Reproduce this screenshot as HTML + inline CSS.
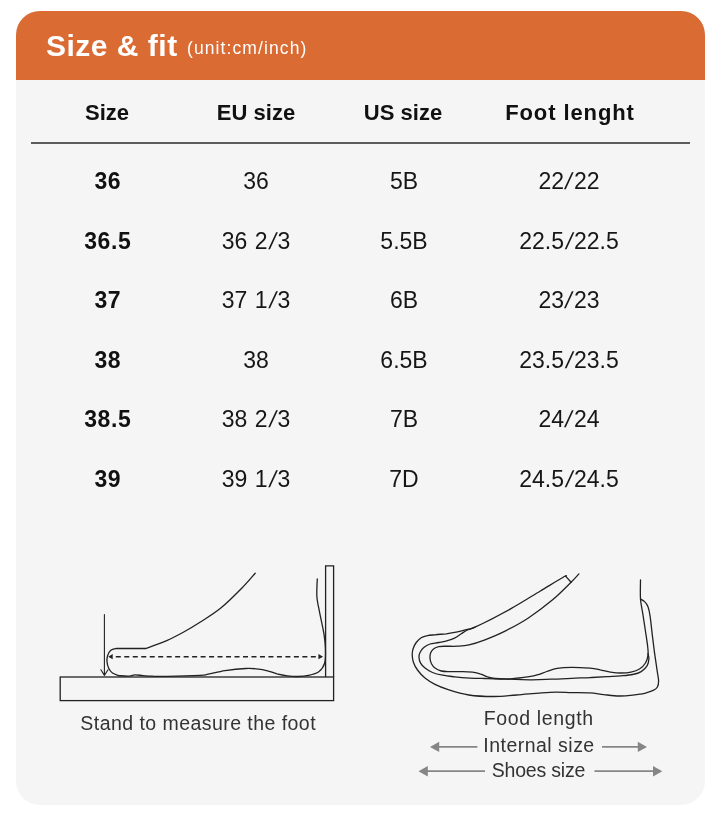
<!DOCTYPE html>
<html lang="en">
<head>
<meta charset="utf-8">
<title>Size &amp; fit</title>
<style>
html,body{margin:0;padding:0;background:#fff;}
body{width:720px;height:820px;position:relative;overflow:hidden;font-family:"Liberation Sans",sans-serif;color:#222;}
.card{position:absolute;left:16px;top:11px;width:689px;height:794px;background:#f5f5f5;border-radius:24px;overflow:hidden;}
.head{position:absolute;left:0;top:0;width:689px;height:68.6px;background:#d96b33;}
.t{position:absolute;white-space:nowrap;line-height:1;}
.title{left:30px;top:20px;font-size:30px;font-weight:bold;color:#fff;letter-spacing:0.5px;}
.unit{left:171px;top:28.5px;font-size:17.5px;color:#fff;letter-spacing:1.1px;}
.c{position:absolute;white-space:nowrap;line-height:1;transform:translate(-50%,-50%);}
.h{font-weight:bold;font-size:22px;color:#111;}
.b{font-weight:bold;font-size:23px;color:#111;letter-spacing:0.6px;}
.r{font-size:23px;color:#161616;word-spacing:1px;}
.r i{font-style:normal;display:inline-block;transform:skewX(-11deg);margin:0 1.75px;}
.rule{position:absolute;left:15.2px;top:130.9px;width:658.8px;height:2px;background:#5c5c5c;}
.cap{font-size:19.5px;color:#333;}
svg{position:absolute;left:0;top:0;}
</style>
</head>
<body>
<div class="card">
  <div class="head"></div>
  <div class="t title">Size &amp; fit</div>
  <div class="t unit">(unit:cm/inch)</div>

  <div class="c h" style="left:91px;top:102px">Size</div>
  <div class="c h" style="left:240px;top:102px">EU size</div>
  <div class="c h" style="left:387px;top:102px">US size</div>
  <div class="c h" style="left:554px;top:102px;letter-spacing:0.9px">Foot lenght</div>
  <div class="rule"></div>

  <div class="c b" style="left:91.8px;top:170px">36</div>
  <div class="c r" style="left:240px;top:170px">36</div>
  <div class="c r" style="left:388px;top:170px">5B</div>
  <div class="c r" style="left:553px;top:170px">22<i>/</i>22</div>

  <div class="c b" style="left:91.8px;top:230px">36.5</div>
  <div class="c r" style="left:240px;top:230px">36 2<i>/</i>3</div>
  <div class="c r" style="left:388px;top:230px">5.5B</div>
  <div class="c r" style="left:553px;top:230px">22.5<i>/</i>22.5</div>

  <div class="c b" style="left:91.8px;top:289px">37</div>
  <div class="c r" style="left:240px;top:289px">37 1<i>/</i>3</div>
  <div class="c r" style="left:388px;top:289px">6B</div>
  <div class="c r" style="left:553px;top:289px">23<i>/</i>23</div>

  <div class="c b" style="left:91.8px;top:348.5px">38</div>
  <div class="c r" style="left:240px;top:348.5px">38</div>
  <div class="c r" style="left:388px;top:348.5px">6.5B</div>
  <div class="c r" style="left:553px;top:348.5px">23.5<i>/</i>23.5</div>

  <div class="c b" style="left:91.8px;top:408px">38.5</div>
  <div class="c r" style="left:240px;top:408px">38 2<i>/</i>3</div>
  <div class="c r" style="left:388px;top:408px">7B</div>
  <div class="c r" style="left:553px;top:408px">24<i>/</i>24</div>

  <div class="c b" style="left:91.8px;top:467.5px">39</div>
  <div class="c r" style="left:240px;top:467.5px">39 1<i>/</i>3</div>
  <div class="c r" style="left:388px;top:467.5px">7D</div>
  <div class="c r" style="left:553px;top:467.5px">24.5<i>/</i>24.5</div>

  <div class="c cap" style="left:182.2px;top:712.5px;letter-spacing:0.45px">Stand to measure the foot</div>
  <div class="c cap" style="left:522.8px;top:708px;letter-spacing:0.63px">Food length</div>
  <div class="c cap" style="left:523px;top:735px;letter-spacing:0.48px">Internal size</div>
  <div class="c cap" style="left:522.4px;top:759.5px;letter-spacing:-0.2px">Shoes size</div>
</div>
<!--SVG-->
<svg width="720" height="820" viewBox="0 0 720 820" fill="none" stroke="#222" stroke-width="1.3" stroke-linecap="round" stroke-linejoin="round">
<g stroke-linejoin="miter" stroke-linecap="butt"><rect x="60.2" y="677" width="273.4" height="23.6"/><path d="M325.6 677V565.8H333.6V677"/></g>
<path d="M104.4 614.6V675.2M100.9 669.8L104.4 675.4L108 669.8" stroke-width="1.1"/>
<path d="M255.2 573.3C252.9 575.8 247.4 582.5 241.7 588.3C236.0 594.1 227.8 602.4 220.8 608.1C213.9 613.8 206.2 618.3 200.0 622.3C193.8 626.3 188.9 629.2 183.3 632.3C177.8 635.3 172.9 637.9 166.7 640.6C160.4 643.3 149.3 647.2 145.8 648.5"/>
<path d="M145.8 648.5L116.5 648.4C115.5 648.7 112.3 649.1 110.8 650.3C109.3 651.5 108.2 653.9 107.6 655.8C107.0 657.7 106.8 659.6 107.0 661.7C107.2 663.8 107.8 666.4 108.7 668.3C109.6 670.2 110.8 671.8 112.5 673.0C114.2 674.2 117.7 675.2 118.8 675.6"/>
<path d="M118.8 675.6C120.3 675.7 125.3 676.3 128.0 676.2C130.7 676.1 132.5 675.0 135.0 674.9C137.5 674.8 140.2 675.4 143.0 675.6C145.8 675.8 148.1 676.1 152.0 676.2C155.9 676.3 158.7 676.5 166.7 676.4C174.7 676.3 193.1 675.8 200.0 675.4C206.9 675.0 204.1 675.0 208.3 674.2C212.5 673.4 218.8 671.6 225.0 670.6C231.2 669.6 239.6 668.7 245.8 668.5C252.1 668.3 257.3 668.7 262.5 669.6C267.7 670.5 272.8 672.7 277.0 673.8C281.2 674.8 284.0 675.3 287.5 675.8C291.0 676.3 294.4 676.6 297.9 676.5C301.4 676.4 304.8 676.2 308.3 675.4C311.8 674.6 316.0 673.7 318.8 671.7C321.5 669.7 323.5 667.1 324.6 663.3C325.7 659.5 325.5 653.6 325.4 648.8C325.3 643.9 324.9 640.1 324.0 634.2C323.1 628.3 321.0 619.5 319.8 613.3C318.6 607.0 317.3 602.4 316.9 596.7C316.5 591.0 317.2 582.0 317.3 579.0"/>
<path d="M115.8 656.7H316" stroke-dasharray="5 3.48" stroke-linecap="butt" stroke-width="1.4"/>
<path d="M108.2 656.7L112.7 654.1V659.3ZM323.1 656.7L318.4 654.1V659.3Z" fill="#222" stroke="none"/>
<path d="M565.8 576.4C565.5 576.5 568.2 574.3 563.9 576.8C559.6 579.3 548.8 585.9 540.0 591.2C531.2 596.5 521.8 602.6 511.0 608.6C500.2 614.6 482.2 623.8 475.0 627.2C467.8 630.7 470.4 628.6 467.5 629.4C464.6 630.2 461.0 631.2 457.5 631.9C454.0 632.6 450.0 633.3 446.2 633.8C442.5 634.2 438.1 634.4 435.0 634.8C431.9 635.1 429.8 635.1 427.5 635.6C425.2 636.1 423.1 636.6 421.2 637.8C419.4 638.9 417.6 640.7 416.2 642.5C414.9 644.3 413.8 646.7 413.1 648.8C412.4 650.8 412.2 652.7 412.2 655.0C412.3 657.3 412.6 660.0 413.5 662.5C414.4 665.0 415.6 667.4 417.5 670.0C419.4 672.6 422.1 675.7 425.0 678.1C427.9 680.5 431.2 682.5 435.0 684.4C438.8 686.3 441.9 687.6 447.5 689.4C453.1 691.2 461.0 693.8 468.8 695.0C476.5 696.2 485.8 696.5 493.8 696.5C501.7 696.5 507.3 695.7 516.7 695.0C526.1 694.3 540.8 692.7 550.0 692.3C559.2 691.9 565.0 692.5 571.7 692.6C578.4 692.7 584.7 692.6 590.0 692.9C595.3 693.2 598.9 694.1 603.7 694.6C608.5 695.1 614.2 695.9 619.0 696.0C623.8 696.1 628.4 695.6 632.7 695.1C637.0 694.6 641.2 694.1 644.6 693.3C648.0 692.5 651.1 691.4 653.2 690.4C655.3 689.4 656.5 688.6 657.4 687.0C658.3 685.4 658.6 683.4 658.6 681.0C658.6 678.6 658.0 676.7 657.4 672.4C656.8 668.1 655.8 661.6 654.9 655.4C654.0 649.1 653.1 641.4 652.3 634.9C651.5 628.4 650.8 620.8 650.1 616.1C649.4 611.4 648.9 609.1 648.0 606.7C647.1 604.3 645.9 602.9 644.6 601.6C643.4 600.3 641.2 599.4 640.5 599.0"/>
<path d="M475.0 627.2C473.8 627.7 469.8 628.9 467.5 630.0C465.2 631.1 463.3 632.5 461.2 633.8C459.2 635.0 457.3 636.6 455.0 637.8C452.7 638.9 450.2 639.8 447.5 640.6C444.8 641.4 441.7 641.9 438.8 642.5C435.8 643.1 432.5 643.2 430.0 644.0C427.5 644.8 425.4 646.1 423.8 647.5C422.1 648.9 420.8 650.8 420.0 652.5C419.2 654.2 418.9 655.7 419.0 657.5C419.1 659.3 419.6 661.3 420.6 663.1C421.6 664.9 423.0 666.5 425.0 668.1C427.0 669.7 429.6 671.3 432.5 672.5C435.4 673.7 438.8 674.5 442.5 675.2C446.2 676.0 450.4 676.4 455.0 676.9C459.6 677.4 465.0 677.8 470.0 678.1C475.0 678.4 480.8 678.4 485.0 678.5C489.2 678.6 487.5 678.5 495.0 678.8C502.5 679.0 520.7 679.7 530.0 679.8C539.3 679.9 543.8 679.5 550.8 679.2C557.8 679.0 565.2 678.6 571.7 678.3C578.2 678.0 584.1 677.9 590.0 677.6C595.9 677.3 601.9 677.0 607.0 676.7C612.1 676.4 616.4 676.3 620.7 675.9C625.0 675.5 629.3 675.2 632.7 674.5C636.1 673.8 638.8 673.1 641.2 671.6C643.6 670.1 645.9 667.7 647.2 665.6C648.5 663.5 648.8 660.8 648.9 658.8C649.0 656.8 648.1 654.6 648.0 653.7"/>
<path d="M578.9 573.9C577.6 575.3 575.6 577.8 571.1 582.2C566.6 586.6 559.2 594.3 552.0 600.3C544.8 606.3 535.7 613.1 528.0 618.2C520.3 623.3 512.8 627.2 505.6 630.8C498.4 634.4 491.1 637.4 485.0 639.8C478.9 642.1 473.6 643.8 469.0 644.9C464.4 646.0 461.3 646.0 457.5 646.2C453.7 646.5 449.4 646.2 446.2 646.2C443.1 646.3 440.8 646.2 438.8 646.6C436.7 647.0 435.1 647.7 433.8 648.8C432.4 649.8 431.2 651.5 430.6 653.1C430.0 654.7 429.9 656.3 430.0 658.1C430.1 659.9 430.7 662.1 431.5 663.8C432.3 665.4 433.4 666.9 435.0 668.1C436.6 669.3 438.8 670.4 441.2 671.0C443.8 671.6 446.5 671.5 450.0 671.6C453.5 671.7 458.8 671.5 462.5 671.6C466.2 671.7 469.6 671.9 472.5 672.2C475.4 672.6 477.5 673.0 480.0 673.8C482.5 674.5 485.0 676.1 487.5 676.9C490.0 677.7 491.2 678.2 495.0 678.5C498.8 678.8 504.7 679.0 510.4 678.8C516.1 678.5 524.6 677.4 529.2 676.7C533.9 676.0 535.4 675.5 538.3 674.6C541.2 673.7 543.6 672.5 546.7 671.5C549.8 670.5 552.9 669.0 557.1 668.3C561.3 667.6 566.2 667.3 571.7 667.3C577.2 667.3 585.2 667.8 590.0 668.2C594.8 668.6 596.8 669.2 600.2 669.9C603.6 670.5 607.1 671.6 610.5 672.1C613.9 672.6 617.3 673.0 620.7 673.0C624.1 673.0 627.9 672.8 631.0 672.1C634.1 671.4 637.1 670.5 639.5 669.0C641.9 667.5 644.1 665.3 645.5 663.0C646.9 660.7 647.6 658.1 648.0 655.4C648.4 652.7 648.1 650.8 647.7 646.8C647.3 642.8 646.3 636.9 645.5 631.5C644.7 626.1 643.7 619.8 642.9 614.4C642.1 609.0 640.9 604.8 640.5 599.0C640.1 593.2 640.5 583.1 640.5 579.9"/>
<path d="M565.8 576.4L571.1 582.2"/>
<g stroke="#868686" stroke-width="1.7" stroke-linecap="butt"><path d="M438 746.9H477.4M602 746.9H639M427 771.2H485M594.5 771.2H654"/></g>
<g fill="#868686" stroke="none"><path d="M430 746.9L439.2 741.7V752.1ZM647 746.9L637.8 741.7V752.1ZM418.5 771.2L427.8 766V776.4ZM662.3 771.2L653 766V776.4Z"/></g>
</svg>
<!--/SVG-->
</body>
</html>
